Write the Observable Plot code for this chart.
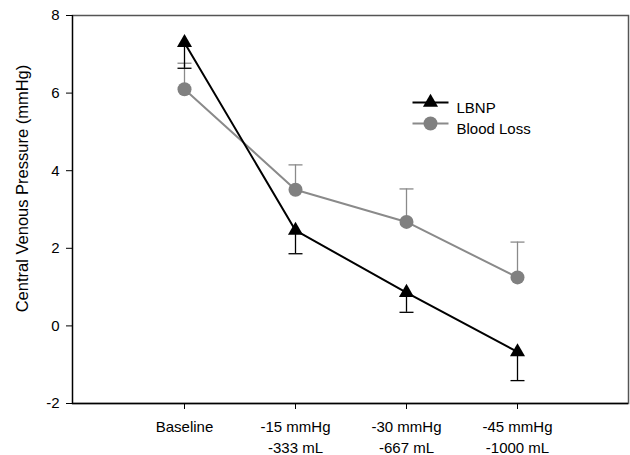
<!DOCTYPE html>
<html>
<head>
<meta charset="utf-8">
<script src="https://cdn.jsdelivr.net/npm/d3@7"></script>
<script src="https://cdn.jsdelivr.net/npm/@observablehq/plot@0.6"></script>
<style>
  html, body { margin: 0; padding: 0; background: #fff; }
  #chart { width: 630px; height: 455px; }
</style>
</head>
<body>
<div id="chart"></div>
<script>
const categories = ["Baseline", "-15 mmHg\n-333 mL", "-30 mmHg\n-667 mL", "-45 mmHg\n-1000 mL"];
const lbnpValues = [7.3, 2.46, 0.86, -0.67];
const lbnpErrDown = [0.66, 0.6, 0.51, 0.74];
const bloodLossValues = [6.1, 3.51, 2.68, 1.25];
const bloodLossErrUp = [0.67, 0.64, 0.85, 0.91];
const yTicks = [-2, 0, 2, 4, 6, 8];
const seriesNames = ["LBNP", "Blood Loss"];
const yLabel = "Central Venous Pressure (mmHg)";

const lbnp = categories.map((c, i) => ({cat: c, v: lbnpValues[i], lo: lbnpValues[i] - lbnpErrDown[i]}));
const blood = categories.map((c, i) => ({cat: c, v: bloodLossValues[i], hi: bloodLossValues[i] + bloodLossErrUp[i]}));

const black = "#000";
const gray = "#8a8a8a";
const grayFill = "#808080";

const capSymbol = {
  draw(context, size) {
    context.moveTo(-7, 0);
    context.lineTo(7, 0);
  }
};
const legendLine = {
  draw(context, size) {
    context.moveTo(-18, 0);
    context.lineTo(18, 0);
  }
};

const font = "'Liberation Sans', Arial, sans-serif";

const chart = Plot.plot({
  width: 630,
  height: 455,
  marginLeft: 72,
  marginRight: 2,
  marginTop: 15,
  marginBottom: 52,
  style: {fontFamily: font, fontSize: "15px", color: "#000", background: "#fff"},
  x: {type: "point", domain: categories, padding: 1},
  y: {domain: [-2, 8]},
  marks: [
    Plot.frame({stroke: "#555", strokeWidth: 1.5}),
    Plot.frame({anchor: "left", stroke: black, strokeWidth: 1.2}),
    Plot.ruleY([-2], {stroke: black, strokeWidth: 1.6}),
    Plot.axisY({ticks: yTicks, tickFormat: d => String(d), tickSize: 6, tickPadding: 7, label: null, fontSize: 15}),
    Plot.axisX({tickSize: 6, tickPadding: 8, label: null, fontSize: 15, lineHeight: 1.4}),
    Plot.text([yLabel], {frameAnchor: "left", dx: -50, dy: -21, rotate: -90, textAnchor: "middle", fontSize: 16.5, fill: "#000"}),
    // error bars
    Plot.ruleX(blood, {x: "cat", y1: "v", y2: "hi", stroke: gray, strokeWidth: 1.3}),
    Plot.dot(blood, {x: "cat", y: "hi", symbol: capSymbol, stroke: gray, strokeWidth: 1.3}),
    Plot.ruleX(lbnp, {x: "cat", y1: "v", y2: "lo", stroke: black, strokeWidth: 1.3}),
    Plot.dot(lbnp, {x: "cat", y: "lo", symbol: capSymbol, stroke: black, strokeWidth: 1.3}),
    // lines
    Plot.line(blood, {x: "cat", y: "v", stroke: gray, strokeWidth: 2}),
    Plot.line(lbnp, {x: "cat", y: "v", stroke: black, strokeWidth: 2}),
    Plot.dot(blood, {x: "cat", y: "v", r: 7, fill: grayFill, stroke: "none", symbol: "circle"}),
    Plot.dot(lbnp, {x: "cat", y: "v", r: 5.6, fill: black, stroke: "none", symbol: "triangle"}),
    // legend
    Plot.dot([seriesNames[0]], {frameAnchor: "top-left", dx: 358, dy: 87, symbol: legendLine, stroke: black, strokeWidth: 2}),
    Plot.dot([seriesNames[0]], {frameAnchor: "top-left", dx: 358, dy: 87, symbol: "triangle", r: 5.6, fill: black, stroke: "none"}),
    Plot.text([seriesNames[0]], {frameAnchor: "top-left", dx: 384, dy: 87, textAnchor: "start", fontSize: 15, fill: "#000"}),
    Plot.dot([seriesNames[1]], {frameAnchor: "top-left", dx: 358, dy: 108, symbol: legendLine, stroke: gray, strokeWidth: 2}),
    Plot.dot([seriesNames[1]], {frameAnchor: "top-left", dx: 358, dy: 108, symbol: "circle", r: 7, fill: grayFill, stroke: "none"}),
    Plot.text([seriesNames[1]], {frameAnchor: "top-left", dx: 384, dy: 108, textAnchor: "start", fontSize: 15, fill: "#000"})
  ]
});

document.getElementById("chart").appendChild(chart);
</script>
</body>
</html>
